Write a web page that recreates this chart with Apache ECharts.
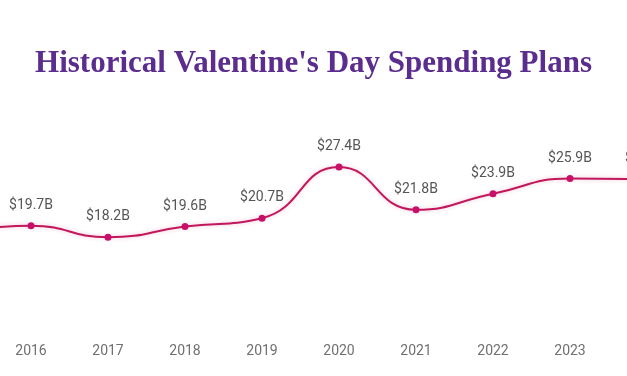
<!DOCTYPE html>
<html>
<head>
<meta charset="utf-8">
<script src="https://cdn.jsdelivr.net/npm/echarts@6/dist/echarts.min.js"></script>
<style>
  html, body { margin: 0; padding: 0; background: #fff; }
  #chart { width: 627px; height: 376px; }
</style>
</head>
<body>
<div id="chart"></div>
<script>
// spending plans, billions of dollars (2015 and 2024 sit just outside the frame)
const years = ["2015", "2016", "2017", "2018", "2019", "2020", "2021", "2022", "2023", "2024"];
const spending = [18.9, 19.7, 18.2, 19.6, 20.7, 27.4, 21.8, 23.9, 25.9, 25.8];

const chart = echarts.init(document.getElementById("chart"));

chart.setOption({
  title: {
    text: "Historical Valentine's Day Spending Plans",
    left: "center",
    top: 43,
    textStyle: {
      fontFamily: "Liberation Serif",
      fontWeight: "bold",
      fontSize: 31,
      color: "#5b2d8e",
    },
  },
  grid: {
    top: 71,
    bottom: 0,
    left: -46,
    right: -20,
    containLabel: false,
    outerBoundsMode: "none",
  },
  xAxis: {
    type: "category",
    data: years,
    boundaryGap: false,
    axisLine: { show: false },
    axisTick: { show: false },
    axisLabel: {
      inside: true,
      margin: 18,
      fontFamily: "Roboto",
      fontSize: 14,
      color: "#707070",
      interval: 0,
    },
  },
  yAxis: {
    type: "value",
    min: 0,
    max: 40,
    show: false,
    splitLine: { show: false },
  },
  series: [
    {
      type: "line",
      data: spending,
      smooth: true,
      symbol: "circle",
      symbolSize: 7,
      itemStyle: { color: "#c8106a" },
      lineStyle: {
        color: "#c2185b",
        width: 2,
        shadowColor: "rgba(194, 24, 91, 0.25)",
        shadowBlur: 4,
      },
      label: {
        show: true,
        position: "top",
        distance: 10,
        fontFamily: "Roboto",
        fontSize: 14,
        color: "#555",
        formatter: (p) => "$" + p.value.toFixed(1) + "B",
      },
    },
  ],
});
</script>
</body>
</html>
